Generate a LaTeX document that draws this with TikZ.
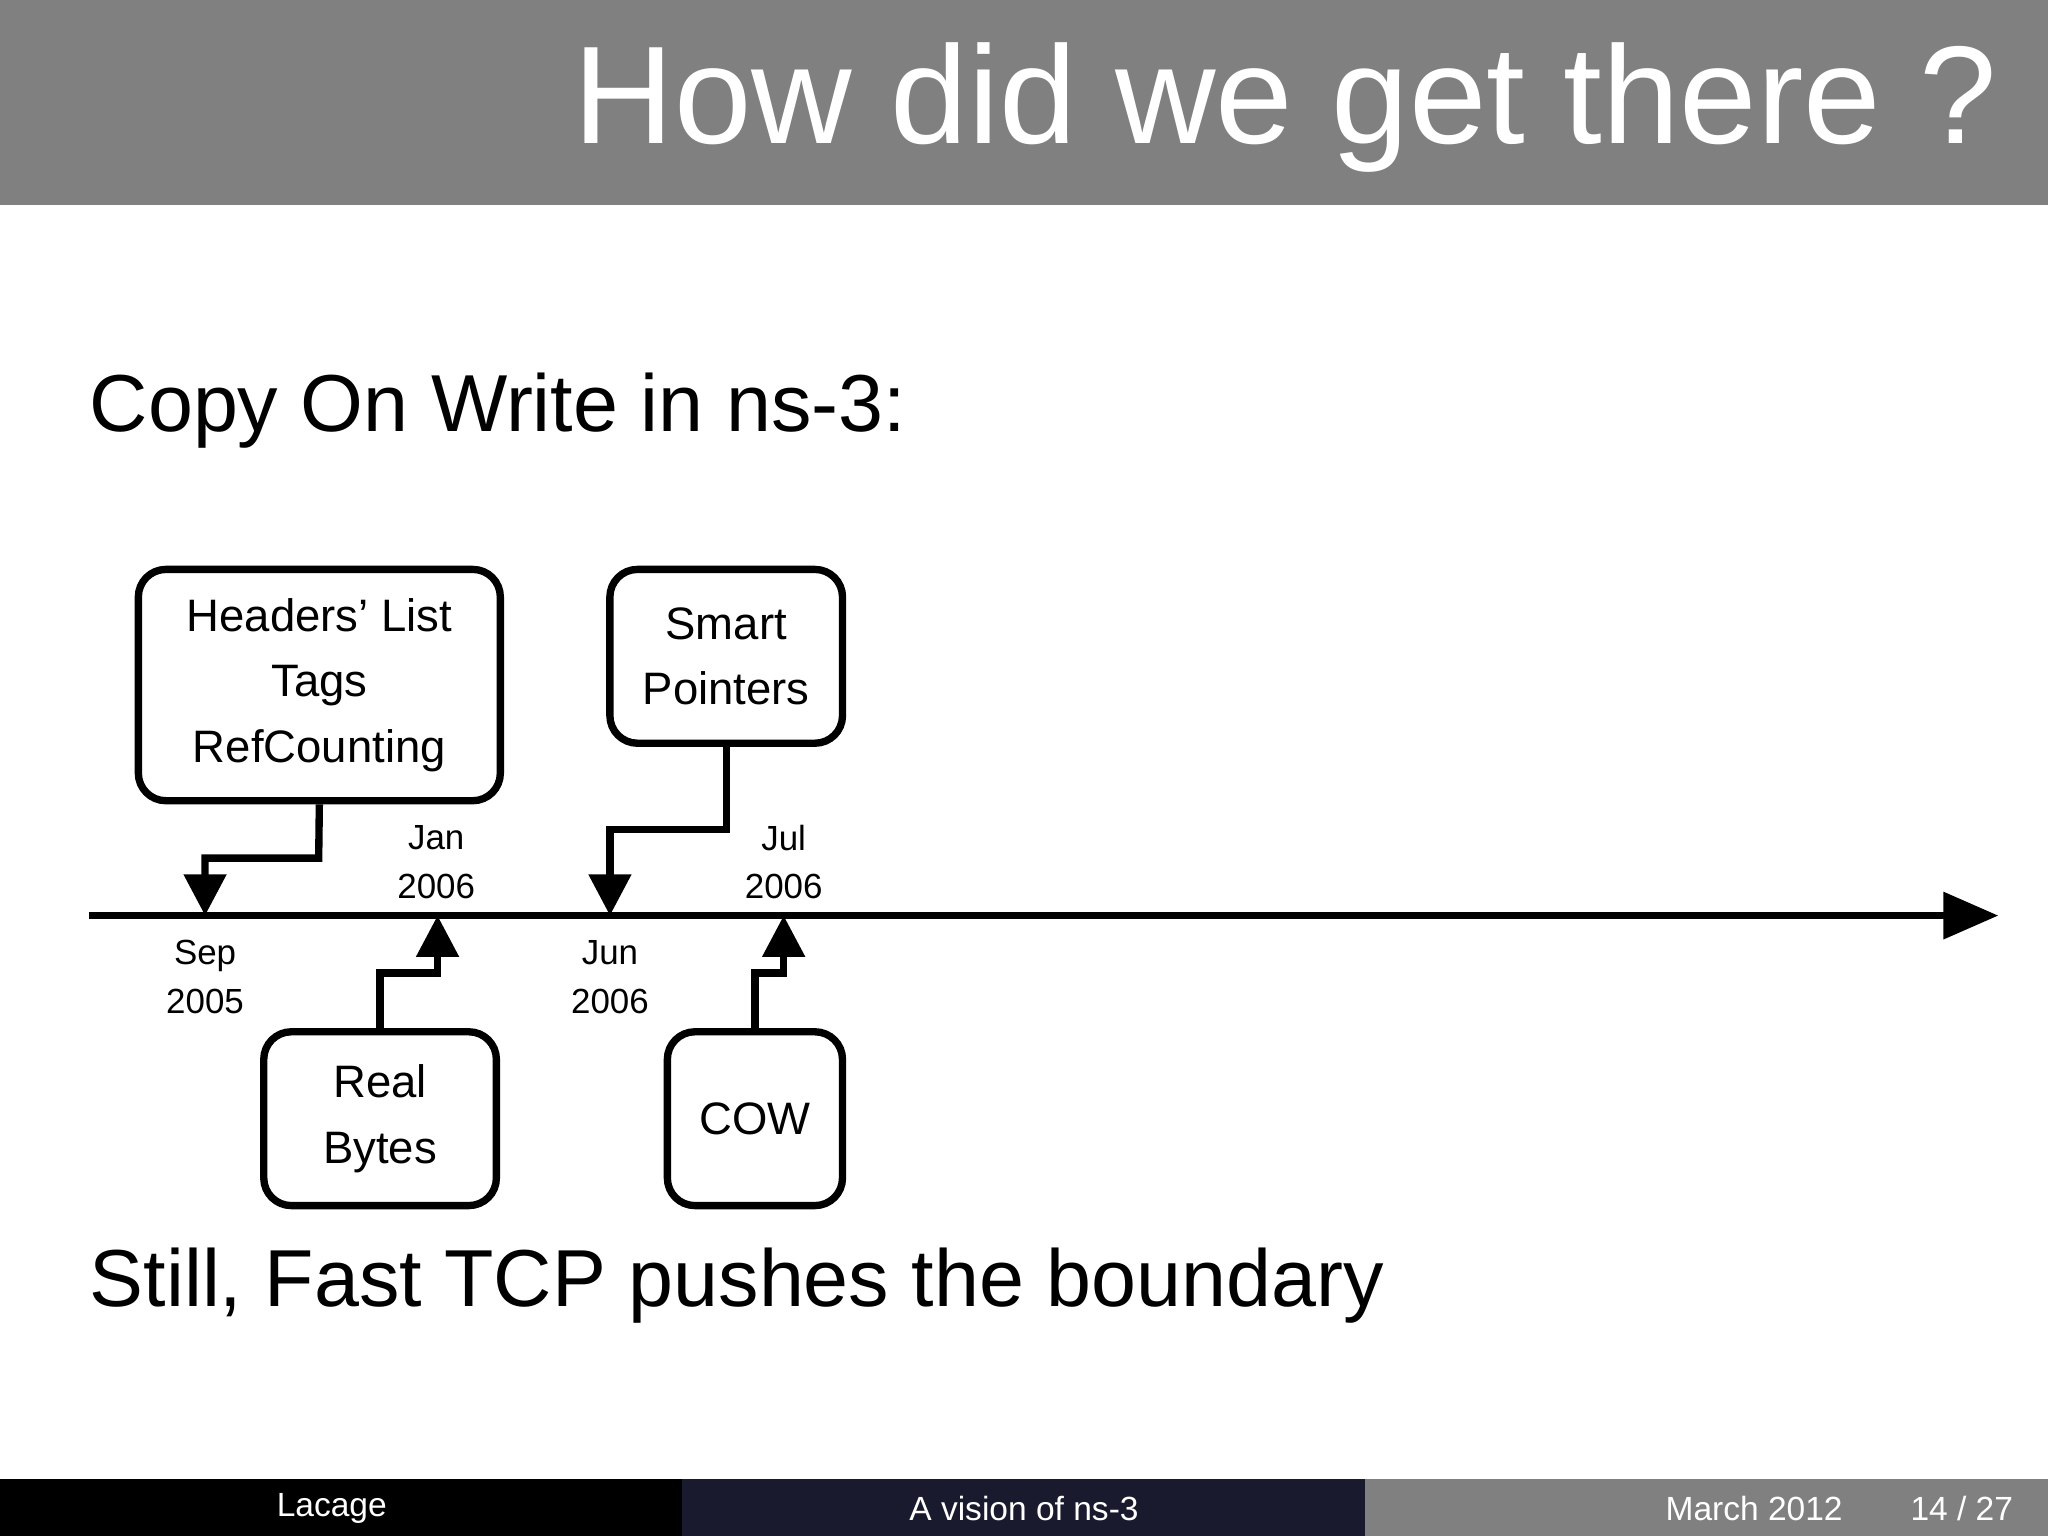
\documentclass[tikz,border=0pt]{standalone}
\usepackage{fontspec}
\setmainfont{Liberation Sans}
\usetikzlibrary{arrows.meta}
\definecolor{hdr}{RGB}{128,128,128}
\definecolor{navy}{RGB}{26,26,46}
\tikzset{
  evbox/.style={draw,line width=1.6pt,rounded corners=6pt,align=center,font=\fontsize{9.9}{14.3}\selectfont},
  conn/.style={line width=1.6pt,-{Triangle[length=9pt,width=9pt]}},
  date/.style={align=center,font=\fontsize{7.6}{10.6}\selectfont},
}
\begin{document}
\begin{tikzpicture}[x=0.01cm,y=-0.01cm]
\useasboundingbox (0,0) rectangle (1568,1176);
\fill[hdr] (0,0) rectangle (1568,157);
\node[anchor=base east,text=white,font=\fontsize{30.3}{34}\selectfont,inner sep=0] (title) at (1530,110) {How did we get there ?};
\node[anchor=base west,font=\fontsize{17.6}{22}\selectfont,inner sep=0] (h1) at (68,330) {Copy On Write in ns-3:};
\node[anchor=base west,font=\fontsize{17.6}{22}\selectfont,inner sep=0] (h2) at (68,1000) {Still, Fast TCP pushes the boundary};
\coordinate (L0) at (68,701);
\coordinate (L1) at (1530,701);
\draw[line width=1.6pt,-{Triangle[length=12pt,width=10pt]}] (L0) -- (L1);
\node[evbox,minimum width=2.77cm,minimum height=1.77cm] (b1) at (244.5,524.5) {Headers' List\\Tags\\RefCounting};
\node[evbox,minimum width=1.78cm,minimum height=1.33cm] (b2) at (556,502.5) {Smart\\Pointers};
\node[evbox,minimum width=1.78cm,minimum height=1.33cm] (b3) at (291,856.5) {Real\\Bytes};
\node[evbox,minimum width=1.34cm,minimum height=1.33cm] (b4) at (578,856.5) {COW};
\coordinate (t1) at (157,701);
\coordinate (t2) at (467,701);
\coordinate (t3) at (335,701);
\coordinate (t4) at (600,701);
\draw[conn] (b1.south) -- (244,657) -| (t1);
\draw[conn] (b2.south) -- (556,635) -| (t2);
\draw[conn] (b3.north) -- (291,745) -| (t3);
\draw[conn] (b4.north) -- (578,745) -| (t4);
\node[date] (d1) at (157,748) {Sep\\2005};
\node[date] (d2) at (467,748) {Jun\\2006};
\node[date] (d3) at (334,660) {Jan\\2006};
\node[date] (d4) at (600,660) {Jul\\2006};
\fill[black] (0,1132) rectangle (522,1176);
\fill[navy] (522,1132) rectangle (1045,1176);
\fill[hdr] (1045,1132) rectangle (1568,1176);
\tikzset{foot/.style={text=white,font=\fontsize{7.3}{9}\selectfont}}
\node[foot] (f1) at (254,1155) {Lacage};
\node[foot] (f2) at (784,1155) {A vision of ns-3};
\node[foot] (f3) at (1343,1155) {March 2012};
\node[foot] (f4) at (1502,1155) {14 / 27};
\end{tikzpicture}
\end{document}
